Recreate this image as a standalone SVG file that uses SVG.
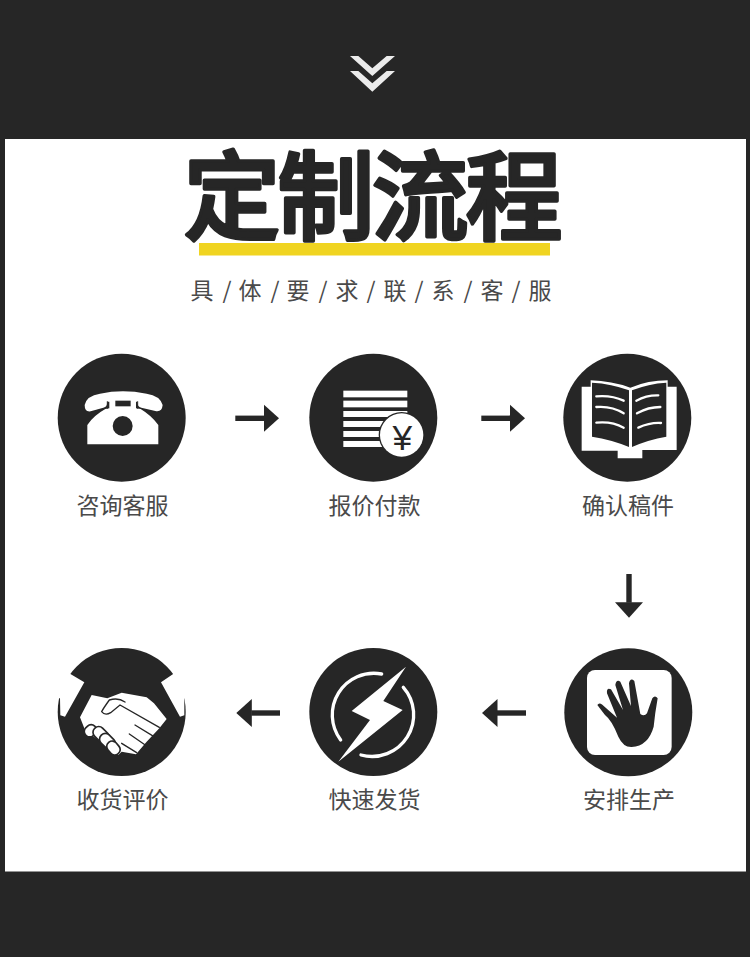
<svg xmlns="http://www.w3.org/2000/svg" width="750" height="957" viewBox="0 0 750 957">
<style>
.d{fill:#262626}.w{fill:#fff}
.lb{font-family:"Noto Sans CJK SC","Liberation Sans",sans-serif;font-size:23px;fill:#4a4a4a;text-anchor:middle}
.cn{stroke:#262626;stroke-width:5.4;fill:none}
.ln{fill:none;stroke:#fff;stroke-linecap:round}
.dl{fill:none;stroke:#262626;stroke-linecap:round}
</style>
<defs>
<marker id="ah" markerUnits="userSpaceOnUse" markerWidth="16" markerHeight="30" refX="0.5" refY="14.5" orient="auto" viewBox="0 0 16 30"><path d="M0 0.5L15.5 14.5L0 28.5Z" fill="#262626"/></marker>
</defs>
<rect width="750" height="957" fill="#262626"/>
<rect x="5" y="139" width="741" height="732.500" fill="#fff"/>
<g id="chevrons" transform="translate(320,40) scale(.3333)" fill="#ebebeb">
<path d="M90 48H115L157 85L200 48H225L157 108Z"/>
<path d="M90 93H115L157 130L200 93H225L157 155Z"/>
</g>
<g id="title">
<rect x="199" y="243" width="351" height="12.500" fill="#f0d421"/>
<text x="232 326 420 514" y="232" font-family="'Noto Sans CJK SC',sans-serif" font-size="97" font-weight="500" text-anchor="middle" fill="#262626" stroke="#262626" stroke-width="3.500" stroke-linejoin="round">定制流程</text>
<text x="202 227 250 275 298 323 347 371 395 419 443 468 492 516 540" y="299" font-family="'Noto Sans CJK SC',sans-serif" font-size="23" text-anchor="middle" fill="#4a4a4a">具/体/要/求/联/系/客/服</text>
</g>
<g id="connectors">
<path class="cn" marker-end="url(#ah)" d="M235.300 418.300H264"/>
<path class="cn" marker-end="url(#ah)" d="M481.300 418.300H510"/>
<path class="cn" marker-end="url(#ah)" d="M629 574V602.700"/>
<path class="cn" marker-end="url(#ah)" d="M526 713H497"/>
<path class="cn" marker-end="url(#ah)" d="M280 713H251.300"/>
</g>
<g id="node-consult">
<circle class="d" cx="121.700" cy="417.700" r="64"/>
<g transform="translate(50,345) scale(.3333)">
<path class="w" d="M104 180Q110 152 150 146Q218 132 290 146Q330 152 338 180Q336 202 316 198L274 188Q262 186 262 170H172Q172 186 160 188L122 199Q104 202 104 180Z"/>
<path class="w" d="M112 298V240Q130 212 166 192L178 190V166H258V190L272 192Q305 212 325 240V298Z"/>
<path class="dl" stroke-width="3" d="M172 170V190M263 170V190"/>
<rect class="d" x="196" y="167" width="46" height="17"/>
<circle class="d" cx="218" cy="243" r="30"/>
</g>
<text class="lb" x="122.500" y="514">咨询客服</text>
</g>
<g id="node-pay">
<circle class="d" cx="373.300" cy="417.700" r="64"/>
<g transform="translate(300,345) scale(.3333)">
<rect class="w" x="130" y="137" width="192" height="20"/>
<rect class="w" x="130" y="167" width="192" height="20"/>
<rect class="w" x="130" y="198" width="192" height="18"/>
<rect class="w" x="130" y="228" width="192" height="18"/>
<rect class="w" x="130" y="258" width="192" height="18"/>
<rect class="w" x="130" y="288" width="192" height="18"/>
<circle cx="305" cy="270" r="69" class="d"/>
<circle cx="305" cy="270" r="65" class="w"/>
<text x="307" y="314" font-family="'Liberation Sans',sans-serif" font-size="106" text-anchor="middle" fill="#262626">¥</text>
</g>
<text class="lb" x="374.500" y="514">报价付款</text>
</g>
<g id="node-confirm">
<circle class="d" cx="627.300" cy="417.700" r="64"/>
<g transform="translate(555,345) scale(.3333)">
<path class="w" d="M80 125H107V106Q170 108 226 128Q280 106 338 106V125H365V315H262V340H188V317H80Z"/>
<path class="d" d="M111 113Q170 116 222 136V306Q170 284 111 275Z"/>
<path class="d" d="M231 136Q280 116 334 113V275Q280 284 231 306Z"/>
<g class="ln" stroke-width="7">
<path d="M124 154Q170 150 206 167"/><path d="M124 186Q170 182 206 205"/><path d="M124 233Q170 228 206 248"/>
<path d="M244 167Q275 150 310 151"/><path d="M246 205Q280 186 316 186"/><path d="M250 248Q285 232 318 234"/>
</g>
</g>
<text class="lb" x="628" y="514">确认稿件</text>
</g>
<g id="node-produce">
<circle class="d" cx="628.300" cy="712.300" r="64"/>
<g transform="translate(555,570) scale(.3333)">
<rect class="w" x="96" y="300" width="254" height="255" rx="24"/>
<path class="d" d="M127 405Q132 396 142 404L186 443L156 370Q154 352 168 358L204 420L181 345Q184 327 196 335L228 408L222 340Q226 322 238 333L256 432Q268 440 276 430L292 385Q300 374 308 385Q300 430 296 470Q280 528 230 531Q205 532 190 500Q170 450 150 435Z"/>
</g>
<text class="lb" x="629" y="808">安排生产</text>
</g>
<g id="node-ship">
<circle class="d" cx="373.300" cy="712" r="64"/>
<g transform="translate(300,640) scale(.3333)">
<path class="w" d="M318 80L250 183L308 210L115 365L210 240L155 213Z"/>
<path class="ln" stroke-width="10" d="M245 102A125 125 0 0 0 122 300"/>
<path class="ln" stroke-width="10" d="M310 142A125 125 0 0 1 183 345"/>
</g>
<text class="lb" x="374.500" y="808">快速发货</text>
</g>
<g id="node-review">
<circle class="d" cx="121.700" cy="712" r="64"/>
<g transform="translate(50,640) scale(.3333)">
<path class="w" d="M55 98L103 127L45 230L31 226L30 175L15 170Z"/>
<path class="w" d="M375 98L333 127L390 230L403 226L403 175L418 170Z"/>
<path class="w" d="M90 232L125 165L172 175L215 158L290 172L312 190L350 237L328 265L290 305L258 343L215 335L205 345L105 270Z"/>
<g class="dl" stroke-width="4">
<path d="M225 186Q205 172 178 180Q160 205 155 215Q165 228 182 218L210 195L328 262"/>
<path d="M255 255L312 290M238 282L290 318M215 310L260 338"/>
</g>
<g fill="#fff" stroke="#262626" stroke-width="5">
<rect x="103" y="256" width="38" height="32" rx="15" transform="rotate(-45 122 273)"/>
<rect x="126" y="266" width="54" height="34" rx="16" transform="rotate(45 152 284)"/>
<rect x="146" y="286" width="52" height="34" rx="16" transform="rotate(45 171 304)"/>
<rect x="168" y="307" width="44" height="32" rx="15" transform="rotate(50 189 324)"/>
</g>
</g>
<text class="lb" x="122.500" y="808">收货评价</text>
</g>
</svg>
